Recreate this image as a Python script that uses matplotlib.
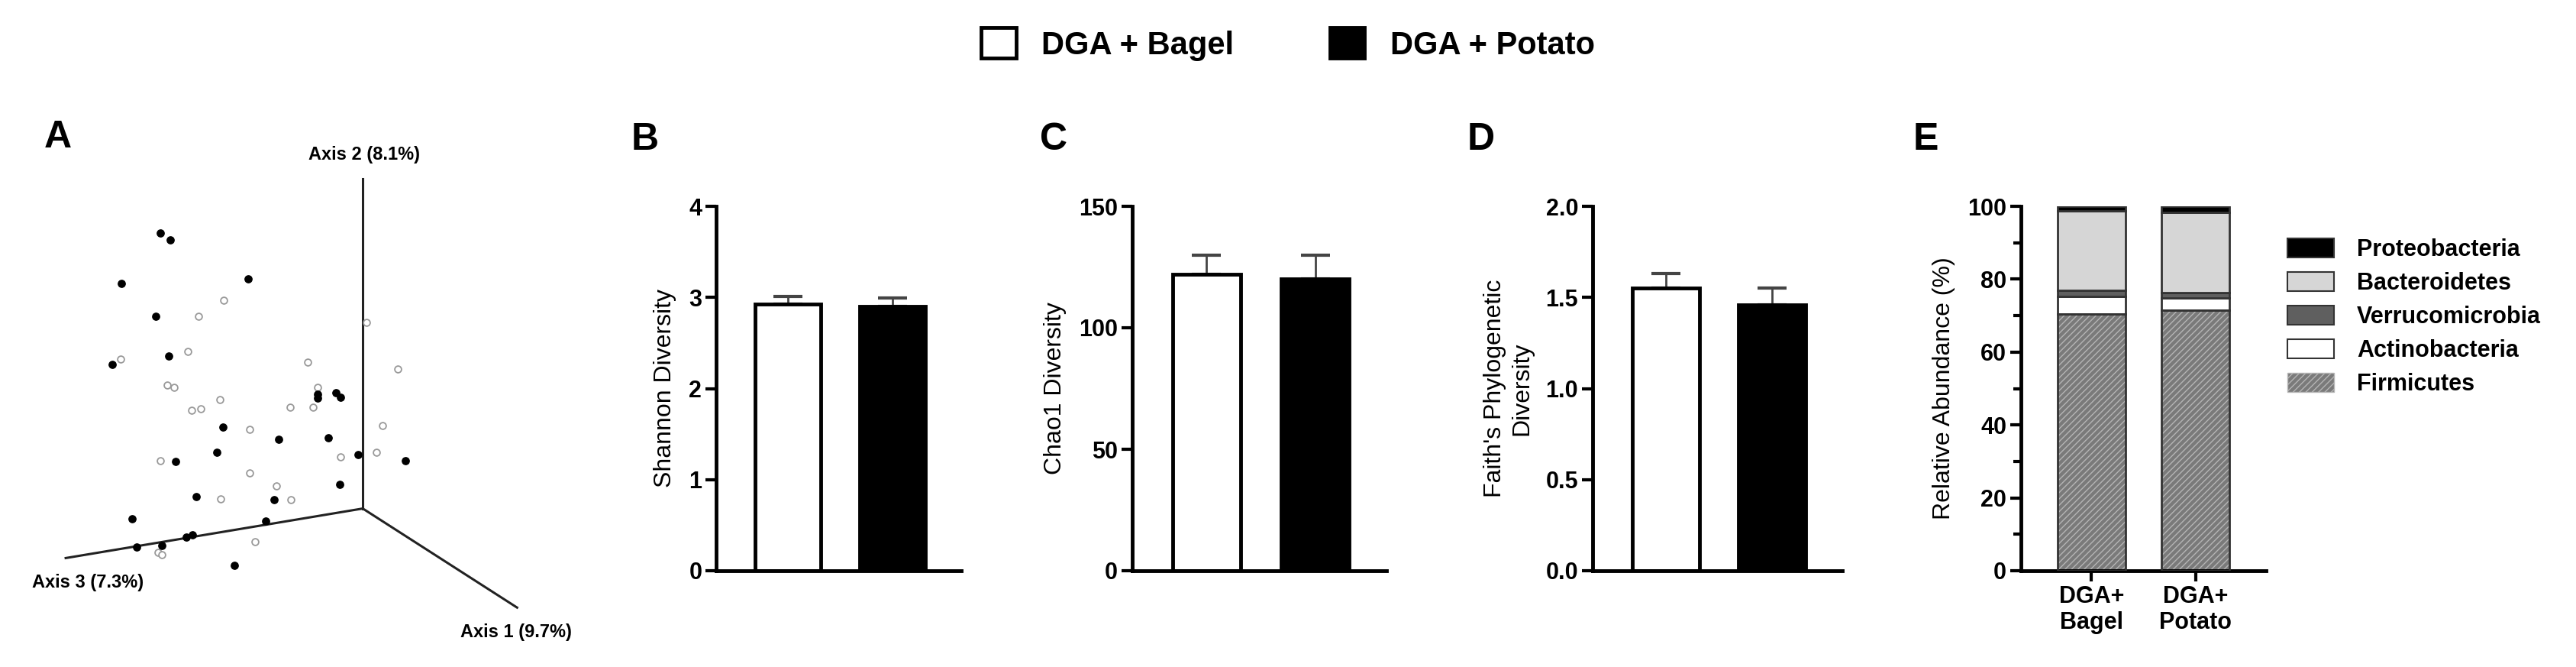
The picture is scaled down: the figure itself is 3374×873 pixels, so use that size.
import matplotlib.pyplot as plt
from matplotlib.patches import Patch
import numpy as np

plt.rcParams['font.family'] = ['Liberation Sans', 'DejaVu Sans']
plt.rcParams['font.weight'] = 'bold'

groups = ["DGA + Bagel", "DGA + Potato"]

# PCoA points (projected panel coordinates)
bagel_x = [460, 408, 752, 385, 247, 632, 817, 343, 357, 652, 452, 393, 413, 596, 643, 785, 512, 700, 773, 330, 513, 567, 453, 597, 524, 325, 332]
bagel_y = [643, 683, 698, 771, 790, 798, 816, 857, 862, 862, 893, 920, 917, 913, 912, 959, 969, 1037, 1027, 1047, 1079, 1111, 1143, 1146, 1252, 1278, 1285]
potato_x = [330, 350, 250, 510, 320, 347, 230, 652, 652, 690, 700, 458, 573, 675, 445, 360, 735, 833, 697, 403, 563, 272, 545, 395, 382, 333, 280, 482]
potato_y = [472, 489, 600, 589, 682, 783, 805, 880, 890, 875, 888, 963, 993, 990, 1026, 1050, 1032, 1048, 1108, 1137, 1145, 1193, 1200, 1235, 1240, 1262, 1266, 1312]

shannon = [2.93, 2.90]
shannon_err = [0.08, 0.09]
chao1 = [122, 120]
chao1_err = [8, 10]
faith = [1.55, 1.46]
faith_err = [0.08, 0.09]

phyla = ["Firmicutes", "Actinobacteria", "Verrucomicrobia", "Bacteroidetes", "Proteobacteria"]
abund_bagel = [70.5, 4.8, 1.7, 21.7, 1.3]
abund_potato = [71.5, 3.3, 1.6, 22.0, 1.6]
phyla_colors = ["#7a7a7a", "white", "#5f5f5f", "#d6d6d6", "black"]

W, H = 3374, 873
fig = plt.figure(figsize=(W / 100, H / 100), dpi=100)

def box(l, t, r, b):
    return [l / W, 1 - b / H, (r - l) / W, (b - t) / H]

# ---- panel A
axA = fig.add_axes(box(0, 60, 1000, 873))
axA.set_xlim(0, 1568)
axA.set_ylim(1568, 0)
axA.axis('off')
ox, oy = 745, 1168
for ex, ey in [(745, 335), (135, 1293), (1062, 1418)]:
    axA.plot([ox, ex], [oy, ey], color='#222', lw=2.2)
axA.scatter(bagel_x, bagel_y, s=40, facecolor='white', edgecolor='#999', lw=1.3, zorder=3)
axA.scatter(potato_x, potato_y, s=45, color='black', zorder=3)
axA.text(748, 275, "Axis 2 (8.1%)", ha='center', va='center', fontsize=17)
axA.text(180, 1355, "Axis 3 (7.3%)", ha='center', va='center', fontsize=17)
axA.text(1060, 1480, "Axis 1 (9.7%)", ha='center', va='center', fontsize=17)

def style(ax):
    for s in ['top', 'right']:
        ax.spines[s].set_visible(False)
    for s in ['left', 'bottom']:
        ax.spines[s].set_linewidth(3.5)
    ax.tick_params(width=3, length=10, labelsize=22)
    for t in ax.get_yticklabels():
        t.set_fontweight('bold')

def bars(rect, vals, errs, ylim, ticks, ticklabels, label):
    ax = fig.add_axes(box(*rect))
    x = np.arange(len(vals))
    ax.bar(x, vals, width=0.63, color=['white', 'black'], edgecolor='black', lw=3.5, zorder=2)
    ax.errorbar(x, vals, yerr=[[0, 0], errs], fmt='none', ecolor='#444', elinewidth=2,
                capsize=14, capthick=3, zorder=1)
    ax.set_xlim(-0.686, 1.657)
    ax.set_ylim(*ylim)
    ax.set_yticks(ticks)
    ax.set_yticklabels(ticklabels)
    ax.set_xticks([])
    ax.set_ylabel(label, fontsize=23, labelpad=12)
    style(ax)
    return ax

bars((938, 270, 1259, 747), shannon, shannon_err, (0, 4), [0, 1, 2, 3, 4],
     ["0", "1", "2", "3", "4"], "Shannon Diversity")
bars((1483, 270, 1816, 747), chao1, chao1_err, (0, 150), [0, 50, 100, 150],
     ["0", "50", "100", "150"], "Chao1 Diversity")
bars((2086, 270, 2413, 747), faith, faith_err, (0, 2.0), [0, 0.5, 1.0, 1.5, 2.0],
     ["0.0", "0.5", "1.0", "1.5", "2.0"], "Faith's Phylogenetic\nDiversity")

# ---- panel E
axE = fig.add_axes(box(2647, 270, 2968, 747))
bottoms = np.zeros(2)
handles = []
for i, name in enumerate(phyla):
    vals = np.array([abund_bagel[i], abund_potato[i]])
    if name == "Firmicutes":
        axE.bar([0, 1], vals, bottom=bottoms, width=0.65, color=phyla_colors[i],
                hatch='////', edgecolor='#b5b5b5', lw=0, zorder=2)
        axE.bar([0, 1], vals, bottom=bottoms, width=0.65, fill=False,
                edgecolor='#333', lw=2, zorder=3)
        handles.append(Patch(facecolor=phyla_colors[i], hatch='////', edgecolor='#b5b5b5', label=name))
    else:
        axE.bar([0, 1], vals, bottom=bottoms, width=0.65, color=phyla_colors[i],
                edgecolor='#333', lw=2, zorder=2)
        handles.append(Patch(facecolor=phyla_colors[i], edgecolor='#333', lw=1.5, label=name))
    bottoms += vals
axE.set_xlim(-0.68, 1.68)
axE.set_ylim(0, 100)
axE.set_yticks([0, 20, 40, 60, 80, 100])
axE.set_yticks(np.arange(10, 100, 20), minor=True)
axE.tick_params(which='minor', width=3, length=7)
axE.set_xticks([0, 1])
axE.set_xticklabels(["DGA+\nBagel", "DGA+\nPotato"], fontsize=22, fontweight='bold')
axE.set_ylabel("Relative Abundance (%)", fontsize=23, labelpad=12)
style(axE)
axE.legend(handles=handles[::-1], loc='upper left', bbox_to_anchor=(1.0, 0.97), frameon=False,
           fontsize=22, handlelength=2.0, handleheight=0.9, labelspacing=0.45, handletextpad=1.0)

# panel letters
for ch, px, py in [("A", 76, 180), ("B", 845, 183), ("C", 1380, 183), ("D", 1940, 183), ("E", 2522, 183)]:
    fig.text(px / W, 1 - py / H, ch, ha='center', va='center', fontsize=36, fontweight='bold')

# top legend
fig.legend(handles=[Patch(facecolor='white', edgecolor='black', lw=3.5, label=groups[0]),
                    Patch(facecolor='black', edgecolor='black', lw=3.5, label=groups[1])],
           loc='center', bbox_to_anchor=(0.5, 1 - 58 / H), ncol=2, frameon=False,
           fontsize=30, handlelength=1.1, handleheight=1.1, columnspacing=3.0)

fig.savefig("out.png", dpi=100)
